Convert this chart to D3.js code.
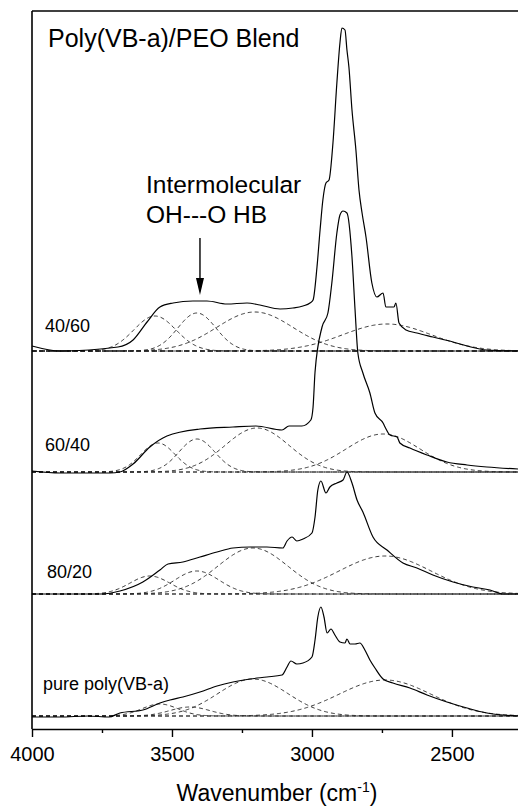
<!DOCTYPE html>
<html>
<head>
<meta charset="utf-8">
<script src="https://cdn.jsdelivr.net/npm/d3@7"></script>
<style>
  body { margin: 0; background: #fff; }
  text { font-family: "Liberation Sans", Arial, sans-serif; fill: #000; }
</style>
</head>
<body>
<div id="chart"></div>
<script>
// spectra (wavenumber in cm-1, absorbance a.u. above each baseline)
var wn4060 = [4000, 3900, 3693, 3639, 3589, 3543, 3496, 3425, 3375, 3304, 3232, 3186, 3114, 3068, 3032, 3007, 2996, 2982, 2971, 2961, 2950, 2939, 2925, 2911, 2900, 2893, 2882, 2875, 2868, 2857, 2843, 2832, 2821, 2807, 2786, 2768, 2746, 2736, 2707, 2700, 2689, 2664, 2625, 2568, 2496, 2446, 2375, 2264];
var ab4060 = [0.05, 0.00, 0.04, 0.11, 0.29, 0.44, 0.48, 0.50, 0.50, 0.47, 0.48, 0.46, 0.42, 0.43, 0.45, 0.48, 0.51, 0.84, 1.21, 1.51, 1.68, 1.71, 2.08, 2.68, 3.08, 3.23, 3.21, 3.01, 2.84, 2.41, 2.01, 1.61, 1.38, 1.14, 0.68, 0.54, 0.58, 0.44, 0.44, 0.48, 0.28, 0.21, 0.18, 0.14, 0.09, 0.05, 0.01, 0.00];

var wn6040 = [4000, 3900, 3721, 3686, 3639, 3579, 3518, 3400, 3282, 3200, 3107, 3082, 3036, 3004, 2996, 2989, 2964, 2943, 2929, 2911, 2900, 2889, 2875, 2857, 2846, 2836, 2818, 2793, 2775, 2746, 2739, 2721, 2696, 2686, 2650, 2589, 2518, 2446, 2375, 2264];
var ab6040 = [0.01, -0.01, -0.01, 0.00, 0.08, 0.25, 0.36, 0.43, 0.45, 0.46, 0.42, 0.46, 0.46, 0.52, 0.65, 1.00, 1.45, 1.59, 1.89, 2.39, 2.57, 2.61, 2.59, 2.15, 1.62, 1.19, 0.99, 0.79, 0.59, 0.49, 0.45, 0.37, 0.35, 0.29, 0.24, 0.17, 0.10, 0.07, 0.05, 0.03];

var wn8020 = [4000, 3750, 3686, 3604, 3543, 3514, 3461, 3400, 3339, 3282, 3221, 3161, 3104, 3089, 3071, 3054, 3032, 3000, 2989, 2979, 2968, 2950, 2936, 2911, 2889, 2875, 2857, 2839, 2818, 2782, 2732, 2675, 2625, 2568, 2496, 2425, 2364, 2318, 2264];
var ab8020 = [0.00, 0.00, 0.03, 0.12, 0.24, 0.30, 0.32, 0.37, 0.42, 0.46, 0.47, 0.47, 0.46, 0.53, 0.57, 0.53, 0.55, 0.61, 0.77, 1.04, 1.13, 1.01, 1.07, 1.11, 1.14, 1.22, 1.11, 0.94, 0.82, 0.57, 0.44, 0.31, 0.26, 0.19, 0.12, 0.07, 0.04, 0.00, 0.00];

var wnPure = [4000, 3900, 3800, 3725, 3686, 3604, 3543, 3507, 3461, 3400, 3339, 3282, 3221, 3161, 3107, 3089, 3075, 3054, 3032, 3000, 2989, 2979, 2968, 2957, 2946, 2932, 2918, 2900, 2882, 2875, 2864, 2846, 2829, 2811, 2793, 2775, 2746, 2711, 2650, 2589, 2518, 2446, 2375, 2264];
var abPure = [-0.01, -0.01, 0.00, -0.01, 0.03, 0.06, 0.13, 0.16, 0.19, 0.24, 0.30, 0.34, 0.37, 0.39, 0.41, 0.49, 0.55, 0.52, 0.53, 0.59, 0.76, 0.99, 1.09, 0.99, 0.83, 0.87, 0.81, 0.74, 0.73, 0.77, 0.72, 0.72, 0.73, 0.66, 0.56, 0.48, 0.37, 0.33, 0.28, 0.21, 0.14, 0.08, 0.03, 0.00];

// fitted bands: [centre cm-1, height, sigma cm-1]
var bands4060 = [[3561, 0.35, 75], [3411, 0.38, 68], [3204, 0.39, 136], [2732, 0.27, 157]];
var bands6040 = [[3550, 0.29, 61], [3411, 0.33, 64], [3196, 0.44, 114], [2746, 0.38, 132]];
var bands8020 = [[3579, 0.18, 71], [3411, 0.23, 79], [3211, 0.46, 125], [2739, 0.38, 164]];
var bandsPure = [[3543, 0.12, 64], [3436, 0.09, 71], [3211, 0.37, 125], [2739, 0.36, 164]];

var sampleLabels = ["40/60", "60/40", "80/20", "pure poly(VB-a)"];
var offsets = [3.65, 2.44, 1.22, 0];
var majorTicks = [4000, 3500, 3000, 2500];
var minorTicks = [3750, 3250, 2750];

var svgWidth = 518;
var svgHeight = 810;

var svg = d3.select("#chart")
    .append("svg")
    .attr("width", svgWidth)
    .attr("height", svgHeight);

var xScale = d3.scaleLinear()
    .domain([4000, 2264])
    .range([32, 518]);

var yScale = d3.scaleLinear()
    .domain([-0.13, 7.05])
    .range([729, 11]);

var samples = [
    {wn: wn4060, ab: ab4060, bands: bands4060},
    {wn: wn6040, ab: ab6040, bands: bands6040},
    {wn: wn8020, ab: ab8020, bands: bands8020},
    {wn: wnPure, ab: abPure, bands: bandsPure}
];

var gridWn = d3.range(4000, 2259, -4);

samples.forEach(function(s, i) {
    var off = offsets[i];

    // baseline
    svg.append("line")
        .attr("x1", xScale(4000))
        .attr("x2", xScale(2264))
        .attr("y1", yScale(off))
        .attr("y2", yScale(off))
        .attr("stroke", i == 0 ? "#000" : "#444")
        .attr("stroke-width", i == 0 ? 1.4 : 0.9)
        .attr("stroke-dasharray", i == 0 ? "5,3" : "4,3");

    // gaussian components
    var gLine = d3.line()
        .x(d => xScale(d[0]))
        .y(d => yScale(off + d[1]));

    s.bands.forEach(function(b) {
        var pts = gridWn.map(w => [w, b[1] * Math.exp(-Math.pow(w - b[0], 2) / (2 * b[2] * b[2]))]);
        svg.append("path")
            .attr("d", gLine(pts))
            .attr("fill", "none")
            .attr("stroke", "#222")
            .attr("stroke-width", 0.9)
            .attr("stroke-dasharray", "4,3");
    });

    // measured spectrum
    var line = d3.line()
        .x(d => xScale(d[0]))
        .y(d => yScale(off + d[1]))
        .curve(d3.curveMonotoneX);

    svg.append("path")
        .attr("d", line(s.wn.map((w, k) => [w, s.ab[k]])))
        .attr("fill", "none")
        .attr("stroke", "#000")
        .attr("stroke-width", 1.2);
});

// sample labels
var labelPos = [[45, 332], [45, 451], [47, 578], [43, 690]];
sampleLabels.forEach(function(t, i) {
    svg.append("text")
        .attr("x", labelPos[i][0])
        .attr("y", labelPos[i][1])
        .attr("font-size", "18px")
        .text(t);
});

// frame
svg.append("line").attr("x1", 32).attr("x2", 32).attr("y1", 11).attr("y2", 729)
    .attr("stroke", "#000").attr("stroke-width", 1.6);
svg.append("line").attr("x1", 32).attr("x2", 518).attr("y1", 11).attr("y2", 11)
    .attr("stroke", "#000").attr("stroke-width", 1.6);

// x axis
var xAxis = d3.axisBottom(xScale)
    .tickValues(majorTicks)
    .tickFormat(d3.format("d"))
    .tickSize(8)
    .tickSizeOuter(0)
    .tickPadding(10);

var axisG = svg.append("g")
    .attr("transform", "translate(0, 729)")
    .call(xAxis);
axisG.select(".domain").attr("stroke-width", 1.6);
axisG.selectAll(".tick line").attr("stroke-width", 1.4);
axisG.selectAll(".tick text")
    .attr("font-size", "20px")
    .attr("font-family", "Liberation Sans, Arial, sans-serif");

svg.append("g")
    .attr("transform", "translate(0, 729)")
    .call(d3.axisBottom(xScale).tickValues(minorTicks).tickSize(4).tickFormat(""))
    .call(g => g.select(".domain").remove())
    .selectAll(".tick line").attr("stroke-width", 1.4);

// axis title
var xt = svg.append("text")
    .attr("x", 277)
    .attr("y", 801)
    .attr("text-anchor", "middle")
    .attr("font-size", "23px");
xt.append("tspan").text("Wavenumber (cm");
xt.append("tspan").attr("font-size", "14px").attr("dy", -9).text("-1");
xt.append("tspan").attr("dy", 9).text(")");

// title
svg.append("text")
    .attr("x", 48)
    .attr("y", 47)
    .attr("font-size", "25px")
    .text("Poly(VB-a)/PEO Blend");

// annotation
svg.append("text")
    .attr("x", 146)
    .attr("y", 193)
    .attr("font-size", "24.5px")
    .text("Intermolecular");
svg.append("text")
    .attr("x", 146)
    .attr("y", 223)
    .attr("font-size", "24.5px")
    .text("OH---O HB");

var ax = xScale(3400);
var tipY = yScale(offsets[0] + 0.56);
svg.append("line")
    .attr("x1", ax).attr("x2", ax)
    .attr("y1", yScale(offsets[0] + 1.13))
    .attr("y2", tipY - 10)
    .attr("stroke", "#000")
    .attr("stroke-width", 1.4);
svg.append("path")
    .attr("d", `M${ax - 4},${tipY - 17} L${ax + 4},${tipY - 17} L${ax},${tipY} Z`)
    .attr("fill", "#000");
</script>
</body>
</html>
